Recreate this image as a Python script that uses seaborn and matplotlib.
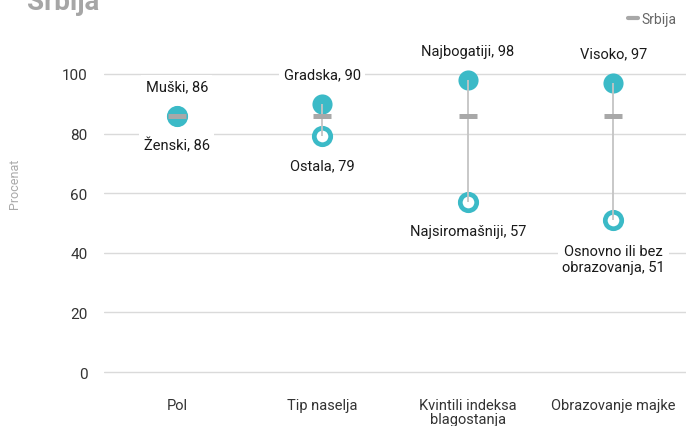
import matplotlib
matplotlib.use("Agg")
import matplotlib.pyplot as plt
import seaborn as sns
import pandas as pd
from matplotlib.lines import Line2D

# Categories and values
categories = ["Pol", "Tip naselja", "Kvintili indeksa\nblagostanja", "Obrazovanje majke"]
high_labels = ["Muški", "Gradska", "Najbogatiji", "Visoko"]
high_values = [86, 90, 98, 97]
low_labels = ["Ženski", "Ostala", "Najsiromašniji", "Osnovno ili bez\nobrazovanja"]
low_values = [86, 79, 57, 51]
national_label = "Srbija"
national_value = 86
y_ticks = [0, 20, 40, 60, 80, 100]

TEAL = "#3BBAC7"
GREY_DASH = "#A8A8A8"
GREY_LINE = "#C4C4C4"
GRID = "#DADADA"

sns.set_theme(style="white")
plt.rcParams["font.family"] = ["Roboto", "DejaVu Sans"]

df = pd.DataFrame({
    "cat": categories,
    "high": high_values,
    "low": low_values,
    "nat": [national_value] * len(categories),
})

fig = plt.figure(figsize=(6.86, 4.27), dpi=100)
ax = fig.add_axes([104 / 686, 31 / 427, 582 / 686, 342 / 427])

ax.set_xlim(-0.5, len(categories) - 0.5)
ax.set_ylim(-7.7, 107)
ax.set_yticks(y_ticks)
for v in y_ticks:
    ax.axhline(v, color=GRID, lw=1.0, zorder=0)

xs = list(range(len(categories)))

# hollow markers for the lower group, filled for the upper group
sns.scatterplot(x=xs, y=df["low"], ax=ax, s=140, color="white", edgecolor=TEAL,
                linewidth=3.4, zorder=3, legend=False)
sns.scatterplot(x=xs, y=df["high"], ax=ax, s=210, color=TEAL, edgecolor=TEAL,
                linewidth=0, zorder=4, legend=False)

# range connector
ax.vlines(xs, df["low"], df["high"], color=GREY_LINE, lw=1.3, zorder=5)

# national reference dash
sns.scatterplot(x=xs, y=df["nat"], ax=ax, marker="_", s=170, color=GREY_DASH,
                linewidth=3.6, zorder=6, legend=False)

bbox = dict(boxstyle="square,pad=0.3", fc="white", ec="none")
for x, lab, v in zip(xs, high_labels, high_values):
    ax.annotate(f"{lab}, {v}", (x, v), xytext=(0, 21), textcoords="offset points",
                ha="center", va="center", fontsize=10.5, color="#1a1a1a", bbox=bbox, zorder=7)
for x, lab, v in zip(xs, low_labels, low_values):
    ax.annotate(f"{lab}, {v}", (x, v), xytext=(0, -21 if "\n" not in lab else -28),
                textcoords="offset points", ha="center", va="center", fontsize=10.5,
                color="#1a1a1a", bbox=bbox, zorder=7, linespacing=1.2)

ax.set_xticks(xs)
ax.set_xticklabels(categories, fontsize=10.5, color="#333333", linespacing=1.05)
ax.set_yticklabels([str(v) for v in y_ticks], fontsize=11, color="#333333")
ax.tick_params(axis="y", length=0, pad=12)
ax.tick_params(axis="x", length=0, pad=2)
for s in ax.spines.values():
    s.set_visible(False)
ax.set_ylabel("Procenat", fontsize=9, color="#AAAAAA")
ax.yaxis.set_label_coords(-0.142, 0.62)

# legend
handle = Line2D([], [], color=GREY_DASH, lw=3)
fig.legend([handle], [national_label], loc="upper right",
           bbox_to_anchor=(1.005, 1.0), frameon=False, fontsize=10,
           handlelength=0.7, handletextpad=0.3, labelcolor="#666666")

fig.text(0.04, 0.995, "Srbija", fontsize=20, fontweight="bold", color="#A6A6A6",
         ha="left", va="center")

fig.savefig("out.png", dpi=100)
